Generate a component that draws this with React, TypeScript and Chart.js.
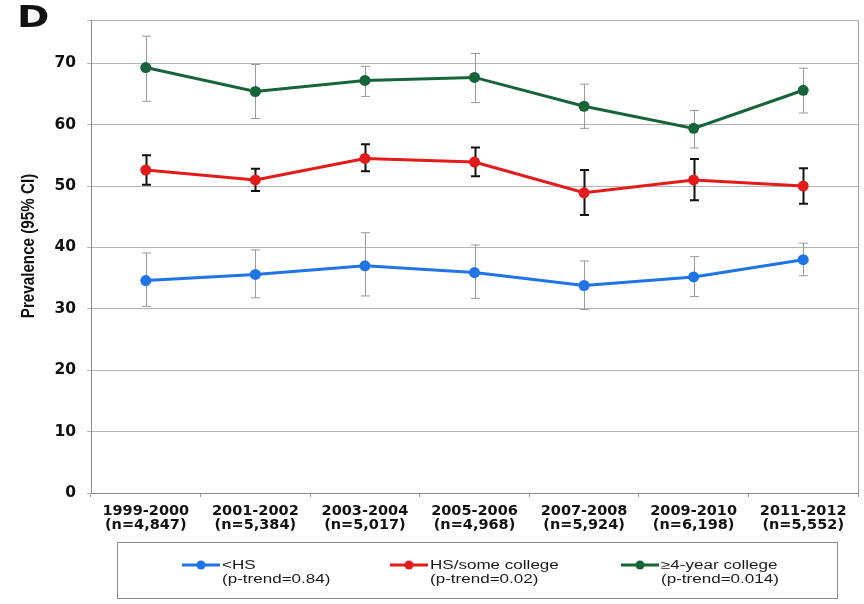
import React, { useEffect, useRef } from "react";
import { Chart, registerables } from "chart.js";

Chart.register(...registerables);

// Survey cycles and sample sizes
const periods = ["1999-2000", "2001-2002", "2003-2004", "2005-2006", "2007-2008", "2009-2010", "2011-2012"];
const sampleSizes = ["(n=4,847)", "(n=5,384)", "(n=5,017)", "(n=4,968)", "(n=5,924)", "(n=6,198)", "(n=5,552)"];

// Prevalence (%) with 95% CI by education level
const lessHS = [34.6, 35.6, 37.0, 35.9, 33.8, 35.2, 38.0];
const lessHSLow = [30.4, 31.8, 32.1, 31.7, 29.9, 32.0, 35.4];
const lessHSHigh = [39.1, 39.6, 42.4, 40.4, 37.8, 38.5, 40.7];

const hsSome = [52.6, 51.0, 54.5, 53.9, 48.9, 51.0, 50.0];
const hsSomeLow = [50.2, 49.2, 52.4, 51.6, 45.3, 47.7, 47.1];
const hsSomeHigh = [55.0, 52.8, 56.8, 56.3, 52.6, 54.4, 52.9];

const college = [69.3, 65.4, 67.2, 67.7, 63.0, 59.4, 65.6];
const collegeLow = [63.8, 61.0, 64.6, 63.6, 59.4, 56.2, 61.9];
const collegeHigh = [74.4, 69.8, 69.5, 71.6, 66.6, 62.3, 69.2];

const seriesNames = ["<HS", "HS/some college", "\u22654-year college"];
const trendNotes = ["(p-trend=0.84)", "(p-trend=0.02)", "(p-trend=0.014)"];
const yTicks = [0, 10, 20, 30, 40, 50, 60, 70];
const yTitle = "Prevalence (95% CI)";

const BLUE = "#1f74e6";
const RED = "#e41b1b";
const GREEN = "#17643a";
const WIDE = "'DejaVu Sans', Arial, sans-serif";
const ARIAL = "'Liberation Sans', Arial, sans-serif";

const errorBarPlugin = {
  id: "errorBars",
  beforeDatasetsDraw(chart: any) {
    const ctx = chart.ctx;
    const y = chart.scales.y;
    chart.data.datasets.forEach((ds: any, i: number) => {
      const meta = chart.getDatasetMeta(i);
      ctx.save();
      ctx.strokeStyle = ds.barColor;
      ctx.lineWidth = ds.barWidth;
      meta.data.forEach((pt: any, j: number) => {
        const x = Math.round(pt.x) + 0.5;
        const yl = y.getPixelForValue(ds.low[j]);
        const yh = y.getPixelForValue(ds.high[j]);
        ctx.beginPath();
        ctx.moveTo(x, yl);
        ctx.lineTo(x, yh);
        ctx.moveTo(x - 4.5, yl);
        ctx.lineTo(x + 4.5, yl);
        ctx.moveTo(x - 4.5, yh);
        ctx.lineTo(x + 4.5, yh);
        ctx.stroke();
      });
      ctx.restore();
    });
  },
};

const framePlugin = {
  id: "frame",
  afterDraw(chart: any) {
    const ctx = chart.ctx;
    const a = chart.chartArea;
    ctx.save();
    // right border of the plot
    ctx.strokeStyle = "#a0a0a0";
    ctx.lineWidth = 1;
    ctx.beginPath();
    ctx.moveTo(a.right + 0.5, a.top);
    ctx.lineTo(a.right + 0.5, a.bottom);
    ctx.stroke();

    // panel letter
    ctx.fillStyle = "#111";
    ctx.font = `bold 30px ${WIDE}`;
    ctx.textBaseline = "alphabetic";
    ctx.textAlign = "left";
    ctx.save();
    ctx.translate(17, 27);
    ctx.scale(1.3, 1);
    ctx.fillText("D", 0, 0);
    ctx.restore();

    // y-axis title
    ctx.save();
    ctx.translate(29, 246);
    ctx.rotate(-Math.PI / 2);
    ctx.font = `bold 16px ${ARIAL}`;
    ctx.textAlign = "center";
    ctx.textBaseline = "middle";
    ctx.fillStyle = "#111";
    ctx.scale(0.95, 1.12);
    ctx.fillText(yTitle, 0, 0);
    ctx.restore();

    // legend box
    ctx.strokeStyle = "#8a8a8a";
    ctx.lineWidth = 1;
    ctx.strokeRect(117.5, 542.5, 720, 56);
    const colors = [BLUE, RED, GREEN];
    const xs = [182, 390, 621];
    colors.forEach((c, k) => {
      const x0 = xs[k];
      ctx.strokeStyle = c;
      ctx.lineWidth = 3;
      ctx.beginPath();
      ctx.moveTo(x0, 565);
      ctx.lineTo(x0 + 38, 565);
      ctx.stroke();
      ctx.fillStyle = c;
      ctx.beginPath();
      ctx.arc(x0 + 19, 565, 4.5, 0, Math.PI * 2);
      ctx.fill();
      ctx.fillStyle = "#1a1a1a";
      ctx.font = `12px ${ARIAL}`;
      ctx.textBaseline = "middle";
      ctx.save();
      ctx.translate(x0 + 40, 0);
      ctx.scale(1.42, 1);
      ctx.fillText(seriesNames[k], 0, 566);
      ctx.fillText(trendNotes[k], 0, 580);
      ctx.restore();
    });
    ctx.restore();
  },
};

export default function App() {
  const ref = useRef<HTMLCanvasElement>(null);

  useEffect(() => {
    if (!ref.current) return;
    const mk = (label: string, data: number[], low: number[], high: number[], color: string, barColor: string, barWidth: number) => ({
      label,
      data,
      low,
      high,
      barColor,
      barWidth,
      borderColor: color,
      backgroundColor: color,
      borderWidth: 3,
      pointRadius: 5.5,
      pointHoverRadius: 5.5,
      pointBorderWidth: 0,
      tension: 0,
    });
    const chart = new Chart(ref.current, {
      type: "line",
      data: {
        labels: periods.map((p, i) => [p, sampleSizes[i]]),
        datasets: [
          mk(seriesNames[2], college, collegeLow, collegeHigh, GREEN, "#9a9a9a", 1),
          mk(seriesNames[1], hsSome, hsSomeLow, hsSomeHigh, RED, "#111", 2),
          mk(seriesNames[0], lessHS, lessHSLow, lessHSHigh, BLUE, "#9a9a9a", 1),
        ] as any,
      },
      options: {
        animation: false,
        responsive: false,
        layout: { padding: { top: 17, right: 6, bottom: 50, left: 20 } },
        plugins: {
          legend: { display: false },
          tooltip: { enabled: false },
        },
        scales: {
          x: {
            offset: true,
            afterFit(scale: any) {
              scale.height = 61;
            },
            grid: {
              display: true,
              offset: true,
              drawOnChartArea: false,
              drawTicks: true,
              tickLength: 4,
              color: "#9a9a9a",
            },
            border: { color: "#8a8a8a" },
            ticks: {
              color: "#111",
              font: { family: WIDE, size: 14.5, weight: "bold", lineHeight: 0.98 },
              padding: 7,
              maxRotation: 0,
              autoSkip: false,
            },
          },
          y: {
            min: 0,
            max: 77,
            afterBuildTicks(scale: any) {
              scale.ticks = yTicks.map((v) => ({ value: v })).concat([{ value: 77 }]);
            },
            afterFit(scale: any) {
              scale.width = 71;
            },
            grid: {
              color: "#b4b4b4",
              drawTicks: true,
              tickLength: 4,
            },
            border: { color: "#8a8a8a" },
            ticks: {
              color: "#111",
              padding: 11,
              font: { family: WIDE, size: 15.5, weight: "bold" },
              callback: (v: any) => (v === 77 ? "" : String(v)),
            },
          },
        },
      },
      plugins: [errorBarPlugin, framePlugin],
    });
    return () => chart.destroy();
  }, []);

  return (
    <div style={{ position: "fixed", left: 0, top: 0, width: 864, height: 604, background: "#fff" }}>
      <canvas ref={ref} width={864} height={604} />
    </div>
  );
}
